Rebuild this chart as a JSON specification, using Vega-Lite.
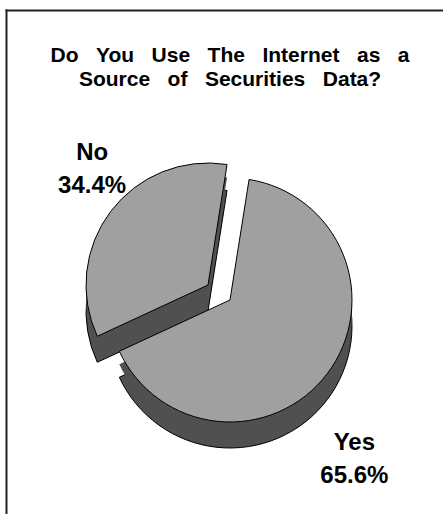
{
  "$schema": "https://vega.github.io/schema/vega-lite/v6.json",
  "autosize": "none",
  "padding": {"left": 6, "top": 10, "right": -20, "bottom": -20},
  "width": 457,
  "height": 524,
  "background": "white",
  "view": {"stroke": "transparent"},
  "config": {
    "view": {"stroke": "transparent"},
    "font": "Liberation Sans"
  },
  "title": {
    "text": ["Do\u00a0\u00a0\u00a0You\u00a0\u00a0\u00a0Use\u00a0\u00a0\u00a0The\u00a0\u00a0\u00a0Internet\u00a0\u00a0\u00a0as\u00a0\u00a0\u00a0a", "Source\u00a0\u00a0\u00a0of\u00a0\u00a0\u00a0Securities\u00a0\u00a0\u00a0Data?"],
    "anchor": "middle",
    "frame": "group",
    "font": "Liberation Sans",
    "fontSize": 21,
    "fontWeight": "bold",
    "color": "black",
    "lineHeight": 24,
    "baseline": "top",
    "offset": 0,
    "dx": -4.5,
    "dy": 80
  },
  "data": {"values": [
    {"answer": "Yes", "share": 0.656},
    {"answer": "No", "share": 0.344}
  ]},
  "transform": [
    {"stack": "share", "groupby": [], "sort": [{"field": "answer", "order": "descending"}], "as": ["v0", "v1"]}
  ],
  "resolve": {"scale": {"theta": "independent", "radius": "independent"}},
  "layer": [
    {
      "mark": {"type": "point", "opacity": 0},
      "encoding": {
        "x": {"field": "share", "type": "quantitative", "axis": {"orient": "top", "domain": true, "domainColor": "#222222", "domainWidth": 2, "domainCap": "square", "ticks": false, "labels": false, "grid": false, "title": null}},
        "y": {"field": "share", "type": "quantitative", "axis": {"orient": "left", "domain": true, "domainColor": "#222222", "domainWidth": 2, "domainCap": "square", "ticks": false, "labels": false, "grid": false, "title": null}}
      }
    },
    {
      "transform": [{"filter": "datum.answer === 'No'"}],
      "mark": {"type": "arc", "radius": 122, "fill": "#505050", "stroke": "black", "strokeWidth": 1, "xOffset": -26.5, "yOffset": 39},
      "encoding": {
        "theta": {"field": "v0", "type": "quantitative", "scale": {"domain": [0, 1], "range": [0.157, 6.44]}},
        "theta2": {"field": "v1"}
      }
    },
    {
      "transform": [{"filter": "datum.answer === 'No'"}],
      "mark": {"type": "arc", "radius": 122, "fill": "#505050", "xOffset": -26.5, "yOffset": 26},
      "encoding": {
        "theta": {"field": "v0", "type": "quantitative", "scale": {"domain": [0, 1], "range": [0.157, 6.44]}},
        "theta2": {"field": "v1"}
      }
    },
    {
      "transform": [{"filter": "datum.answer === 'No'"}],
      "mark": {"type": "arc", "radius": 122, "fill": "#a0a0a0", "stroke": "black", "strokeWidth": 1, "xOffset": -26.5, "yOffset": 13},
      "encoding": {
        "theta": {"field": "v0", "type": "quantitative", "scale": {"domain": [0, 1], "range": [0.157, 6.44]}},
        "theta2": {"field": "v1"}
      }
    },
    {
      "transform": [{"filter": "datum.answer === 'Yes'"}],
      "mark": {"type": "arc", "radius": 122, "fill": "#505050", "stroke": "black", "strokeWidth": 1, "xOffset": -4.5, "yOffset": 54},
      "encoding": {
        "theta": {"field": "v0", "type": "quantitative", "scale": {"domain": [0, 1], "range": [0.157, 6.44]}},
        "theta2": {"field": "v1"}
      }
    },
    {
      "transform": [{"filter": "datum.answer === 'Yes'"}],
      "mark": {"type": "arc", "radius": 122, "fill": "#505050", "xOffset": -4.5, "yOffset": 41},
      "encoding": {
        "theta": {"field": "v0", "type": "quantitative", "scale": {"domain": [0, 1], "range": [0.157, 6.44]}},
        "theta2": {"field": "v1"}
      }
    },
    {
      "transform": [{"filter": "datum.answer === 'Yes'"}],
      "mark": {"type": "arc", "radius": 122, "fill": "#a0a0a0", "stroke": "black", "strokeWidth": 1, "xOffset": -4.5, "yOffset": 28},
      "encoding": {
        "theta": {"field": "v0", "type": "quantitative", "scale": {"domain": [0, 1], "range": [0.157, 6.44]}},
        "theta2": {"field": "v1"}
      }
    },
    {
      "mark": {"type": "text", "font": "Liberation Sans", "fontSize": 24, "fontWeight": "bold", "color": "black", "baseline": "middle", "dx": -4.5, "dy": 11.5},
      "encoding": {
        "theta": {"field": "share", "type": "quantitative", "stack": true, "scale": {"domain": [0, 1], "range": [0.515, 6.501]}},
        "order": {"field": "answer", "sort": "descending"},
        "radius": {"field": "share", "type": "quantitative", "scale": {"type": "linear", "domain": [0.344, 0.656], "range": [190, 202], "zero": false}},
        "text": {"field": "answer"}
      }
    },
    {
      "mark": {"type": "text", "font": "Liberation Sans", "fontSize": 24, "fontWeight": "bold", "color": "black", "baseline": "middle", "dx": -4.5, "dy": 44.5},
      "encoding": {
        "theta": {"field": "share", "type": "quantitative", "stack": true, "scale": {"domain": [0, 1], "range": [0.515, 6.501]}},
        "order": {"field": "answer", "sort": "descending"},
        "radius": {"field": "share", "type": "quantitative", "scale": {"type": "linear", "domain": [0.344, 0.656], "range": [190, 202], "zero": false}},
        "text": {"field": "share", "format": ".1%"}
      }
    }
  ]
}
